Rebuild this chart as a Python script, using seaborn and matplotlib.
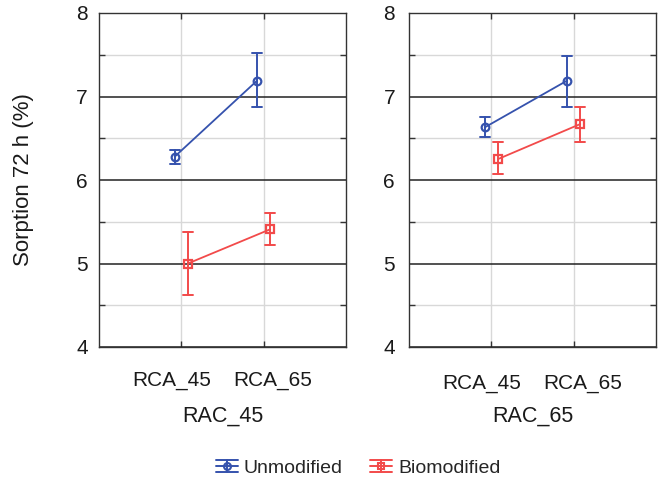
import numpy as np
import pandas as pd
import seaborn as sns
import matplotlib
matplotlib.use("Agg")
import matplotlib.pyplot as plt
from matplotlib.lines import Line2D
from matplotlib.legend_handler import HandlerBase
from matplotlib.ticker import FixedLocator
from matplotlib.transforms import ScaledTranslation

panels = ["RAC_45", "RAC_65"]
categories = ["RCA_45", "RCA_65"]
groups = ["Unmodified", "Biomodified"]

rac45_unmod_mean = [6.28, 7.19]
rac45_unmod_low = [6.19, 6.87]
rac45_unmod_high = [6.36, 7.52]
rac45_bio_mean = [5.00, 5.41]
rac45_bio_low = [4.62, 5.22]
rac45_bio_high = [5.38, 5.61]

rac65_unmod_mean = [6.63, 7.19]
rac65_unmod_low = [6.51, 6.88]
rac65_unmod_high = [6.75, 7.49]
rac65_bio_mean = [6.25, 6.67]
rac65_bio_low = [6.07, 6.46]
rac65_bio_high = [6.46, 6.88]

y_ticks = [4, 5, 6, 7, 8]
y_minor = [4.5, 5.5, 6.5, 7.5]

series = {
    ("RAC_45", "Unmodified"): (rac45_unmod_low, rac45_unmod_mean, rac45_unmod_high),
    ("RAC_45", "Biomodified"): (rac45_bio_low, rac45_bio_mean, rac45_bio_high),
    ("RAC_65", "Unmodified"): (rac65_unmod_low, rac65_unmod_mean, rac65_unmod_high),
    ("RAC_65", "Biomodified"): (rac65_bio_low, rac65_bio_mean, rac65_bio_high),
}
rows = []
for (panel, grp), arrs in series.items():
    for arr in arrs:
        for cat, v in zip(categories, arr):
            rows.append({"panel": panel, "category": cat, "group": grp, "value": v})
df = pd.DataFrame(rows)

sns.set_theme(style="white")
plt.rcParams["font.family"] = ["Liberation Sans", "DejaVu Sans"]

palette = {"Unmodified": "#3552ad", "Biomodified": "#f24a4a"}
text_color = "#1a1a1a"

fig, axes = plt.subplots(1, 2, figsize=(6.64, 4.83), dpi=100)
fig.subplots_adjust(left=99/664, right=656/664, top=1-13/483, bottom=1-347/483, wspace=63/247)

for i, (ax, panel) in enumerate(zip(axes, panels)):
    sub = df[df["panel"] == panel]
    sns.pointplot(data=sub, x="category", y="value", hue="group", order=categories,
                  hue_order=groups, palette=palette, estimator="median",
                  errorbar=("pi", 100), dodge=0.16, markers=["o", "s"],
                  linestyles=["-", "-"], capsize=0.12, ax=ax, legend=False,
                  markersize=5.5, markeredgewidth=1.6, markerfacecolor="none",
                  linewidth=1.3, err_kws={"linewidth": 1.4}, zorder=5)
    ax.set_xlim(-1, 2)
    ax.set_ylim(4, 8)
    ax.yaxis.set_major_locator(FixedLocator(y_ticks))
    ax.yaxis.set_minor_locator(FixedLocator(y_minor))
    ax.set_yticklabels([str(t) for t in y_ticks])
    ax.grid(False)
    ax.grid(True, which="major", axis="y", color="#222222", linewidth=1.1, zorder=1)
    ax.grid(True, which="minor", axis="y", color="#d8d8d8", linewidth=1.0, zorder=1)
    ax.grid(True, which="major", axis="x", color="#d8d8d8", linewidth=1.0, zorder=1)
    ax.set_axisbelow(True)
    for s in ax.spines.values():
        s.set_visible(True)
        s.set_color("#333333")
        s.set_linewidth(1.0)
    ax.tick_params(axis="y", which="major", length=0, labelsize=15,
                   pad=8 if i == 0 else 10, labelcolor=text_color)
    ax.tick_params(axis="y", which="minor", direction="in", length=4, left=True, right=True,
                   color="#333333", width=1)
    ax.tick_params(axis="x", which="major", direction="in", length=4, top=True, bottom=True,
                   color="#333333", width=1, labelsize=15, pad=17.5 if i == 0 else 19.5,
                   labelcolor=text_color)
    for lab, dx in zip(ax.get_xticklabels(), [-9.5, 9.5]):
        lab.set_transform(lab.get_transform() + ScaledTranslation(dx / 100, 0, fig.dpi_scale_trans))
    ax.set_xlabel(panel, fontsize=15.5, labelpad=11 if i == 0 else 9, color=text_color)
    if i == 0:
        ax.set_ylabel("Sorption 72 h (%)", fontsize=16, color=text_color)
        ax.yaxis.set_label_coords(-0.265, 0.5)
    else:
        ax.set_ylabel("")


class ErrHandler(HandlerBase):
    def __init__(self, color, marker):
        super().__init__()
        self.color = color
        self.marker = marker

    def create_artists(self, legend, orig_handle, xdescent, ydescent, width, height,
                       fontsize, trans):
        x0, x1 = -xdescent, -xdescent + width
        yc = -ydescent + height / 2
        dy = height * 0.42
        xm = (x0 + x1) / 2
        arts = [
            Line2D([x0, x1], [yc, yc], color=self.color, lw=1.4),
            Line2D([x0, x1], [yc + dy, yc + dy], color=self.color, lw=1.4),
            Line2D([x0, x1], [yc - dy, yc - dy], color=self.color, lw=1.4),
            Line2D([xm, xm], [yc - dy, yc + dy], color=self.color, lw=1.4),
            Line2D([xm], [yc], color=self.color, marker=self.marker, markersize=5,
                   markerfacecolor="none", markeredgewidth=1.5, lw=0),
        ]
        for a in arts:
            a.set_transform(trans)
        return arts


handles = [Line2D([0], [0], color=palette["Unmodified"]),
           Line2D([0], [0], color=palette["Biomodified"])]
fig.legend(handles, groups, loc="center", bbox_to_anchor=(358/664, 1-468/483), ncol=2,
           frameon=False, fontsize=14, handlelength=1.15, handletextpad=0.3,
           columnspacing=1.4,
           handler_map={handles[0]: ErrHandler(palette["Unmodified"], "o"),
                        handles[1]: ErrHandler(palette["Biomodified"], "s")})

fig.savefig("out.png", dpi=100)
